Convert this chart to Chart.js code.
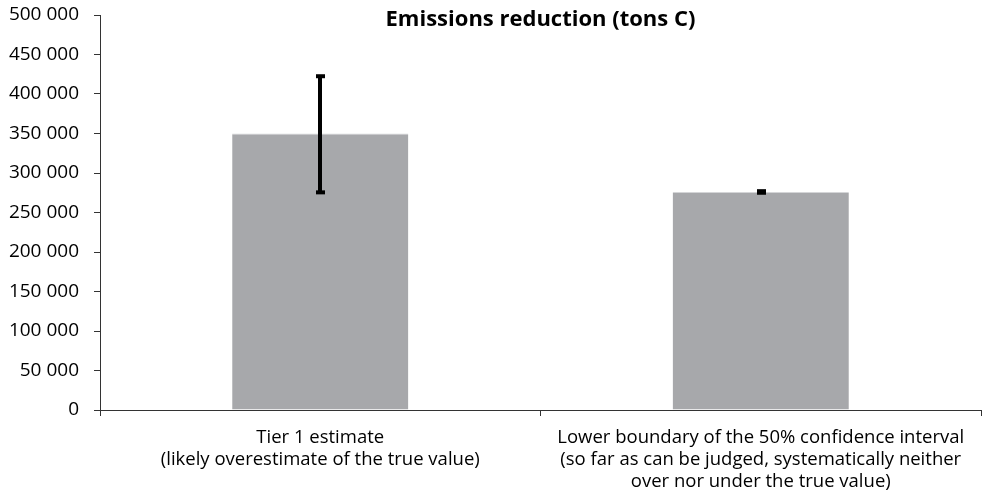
<!DOCTYPE html>
<html lang="en">
  <head>
    <meta charset="UTF-8" />
    <title>Emissions reduction</title>
    <style>
      body {
        margin: 0;
        padding: 0;
        background: #fff;
      }
      .chart-container {
        width: 982px;
        height: 499px;
        position: relative;
      }
    </style>
  </head>
  <body>
    <div class="chart-container">
      <canvas id="emissionsChart"></canvas>
    </div>

    <script src="https://cdn.jsdelivr.net/npm/chart.js"></script>
    <script>
      const categories = [
        ["Tier 1 estimate", "(likely overestimate of the true value)"],
        [
          "Lower boundary of the 50% confidence interval",
          "(so far as can be judged, systematically neither",
          "over nor under the true value)",
        ],
      ];
      const reduction = [350000, 276000];
      const errorLow = [275500, 275000];
      const errorHigh = [422500, 277000];
      const chartTitle = "Emissions reduction (tons C)";

      const fontFamily = "'Open Sans', 'Noto Sans', sans-serif";

      // draws the black error bars from the errorLow / errorHigh arrays
      const errorBarPlugin = {
        id: "errorBars",
        afterDatasetsDraw(chart) {
          const ctx = chart.ctx;
          const yScale = chart.scales.y;
          const meta = chart.getDatasetMeta(0);
          ctx.save();
          ctx.fillStyle = "#000";
          meta.data.forEach((bar, i) => {
            const x = Math.round(bar.x);
            const top = yScale.getPixelForValue(errorHigh[i]);
            const bottom = yScale.getPixelForValue(errorLow[i]);
            ctx.fillRect(x - 2, top, 4, bottom - top);
            ctx.fillRect(x - 4, top - 2, 9, 4);
            ctx.fillRect(x - 4, bottom - 2, 9, 4);
          });
          ctx.restore();
        },
      };

      // title sits inside the plot area in the reference
      const titlePlugin = {
        id: "innerTitle",
        afterDraw(chart) {
          const ctx = chart.ctx;
          const area = chart.chartArea;
          ctx.save();
          ctx.font = "bold 22px " + fontFamily;
          ctx.fillStyle = "#000";
          ctx.textAlign = "center";
          ctx.textBaseline = "middle";
          ctx.fillText(chartTitle, (area.left + area.right) / 2, 20);
          ctx.restore();
        },
      };

      const ctx = document.getElementById("emissionsChart").getContext("2d");

      new Chart(ctx, {
        type: "bar",
        data: {
          labels: categories,
          datasets: [
            {
              data: reduction,
              backgroundColor: "#a7a8ab",
              borderColor: "#d4d5d7",
              borderWidth: { top: 1, left: 0, right: 0, bottom: 0 },
              barPercentage: 0.4,
              categoryPercentage: 1,
            },
          ],
        },
        options: {
          responsive: true,
          maintainAspectRatio: false,
          animation: false,
          layout: {
            padding: { top: 0, right: 1, left: 0, bottom: 0 },
          },
          plugins: {
            legend: { display: false },
            tooltip: { enabled: false },
            title: { display: false },
          },
          scales: {
            x: {
              offset: true,
              grid: {
                offset: true,
                drawOnChartArea: false,
                drawTicks: true,
                tickLength: 6,
                color: "#333",
              },
              border: { color: "#333", width: 1 },
              ticks: {
                color: "#000",
                padding: 11,
                maxRotation: 0,
                font: { family: fontFamily, size: 18.5, lineHeight: "22px" },
              },
              afterFit(scale) {
                scale.height = 89;
              },
            },
            y: {
              min: 0,
              max: 500000,
              grid: {
                drawOnChartArea: false,
                drawTicks: true,
                tickLength: 6,
                color: "#333",
              },
              border: { color: "#333", width: 1 },
              ticks: {
                stepSize: 50000,
                color: "#000",
                padding: 15,
                font: { family: fontFamily, size: 19 },
                callback: (v) =>
                  v.toString().replace(/\B(?=(\d{3})+(?!\d))/g, " "),
              },
              afterFit(scale) {
                scale.width = 100;
                scale.paddingTop = 15;
                scale.paddingBottom = 0;
              },
            },
          },
        },
        plugins: [errorBarPlugin, titlePlugin],
      });
    </script>
  </body>
</html>
